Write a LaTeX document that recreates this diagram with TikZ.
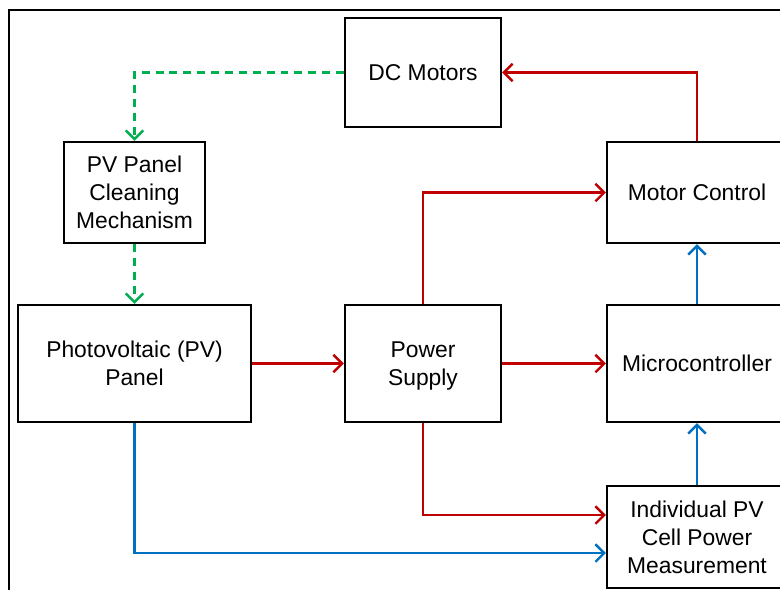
\documentclass[tikz,border=0pt]{standalone}
\usepackage{fontspec}
\setmainfont{Liberation Sans}
\usepackage{xcolor}
\usepackage{tikz}
\usetikzlibrary{arrows.meta,positioning,calc}
\definecolor{FlowRed}{HTML}{C00000}
\definecolor{FlowGreen}{HTML}{00B050}
\definecolor{FlowBlue}{HTML}{0070C0}

\begin{document}
\begin{tikzpicture}[x=0.02cm,y=-0.02cm,
  every node/.style={font=\fontsize{13}{16}\selectfont,inner sep=0pt,align=center},
  block/.style={draw=black,line width=1.2pt,fill=white,text depth=-2pt},
  power/.style={draw=FlowRed,line width=1.4pt,-{Straight Barb[length=5pt,width=10pt]}},
  meas/.style={draw=FlowBlue,line width=1.4pt,-{Straight Barb[length=5pt,width=10pt]}},
  mech/.style={draw=FlowGreen,line width=1.4pt,dash pattern=on 4.5pt off 3.4pt,-{Straight Barb[length=5pt,width=10pt]}}]
\useasboundingbox (0,0) rectangle (780,589);
\clip (0,0) rectangle (780,589);
\draw[line width=1pt] (9,10) rectangle (820,620);

\node[block,minimum width=3.12cm,minimum height=2.18cm] (dcm) at (423,72.5) {DC Motors};
\node[block,minimum width=2.82cm,minimum height=2.02cm] (clean) at (134.5,192.5) {PV Panel\\Cleaning\\Mechanism};
\node[block,minimum width=3.6cm,minimum height=2.02cm] (motor) at (697,192.5) {Motor Control};
\node[block,minimum width=4.66cm,minimum height=2.34cm] (pv) at (134.5,363.5) {Photovoltaic (PV)\\Panel};
\node[block,minimum width=3.12cm,minimum height=2.34cm] (supply) at (423,363.5) {Power\\Supply};
\node[block,minimum width=3.6cm,minimum height=2.34cm] (mcu) at (697,363.5) {Microcontroller};
\node[block,minimum width=3.6cm,minimum height=2.04cm] (cellmeas) at (697,537) {Individual PV\\Cell Power\\Measurement};

\draw[mech] (dcm.west) -| (clean.north);
\draw[mech] (clean.south) -- (pv.north);

\draw[power] (motor.north) |- (dcm.east);
\draw[power] (pv.east) -- (supply.west);
\draw[power] (supply.north) |- (motor.west);
\draw[power] (supply.east) -- (mcu.west);
\draw[power] (supply.south) |- ([yshift=0.44cm]cellmeas.west);

\draw[meas] (pv.south) |- ([yshift=-0.32cm]cellmeas.west);
\foreach \u/\v in {mcu/motor,cellmeas/mcu} \draw[meas] (\u.north) -- (\v.south);
\end{tikzpicture}
\end{document}
